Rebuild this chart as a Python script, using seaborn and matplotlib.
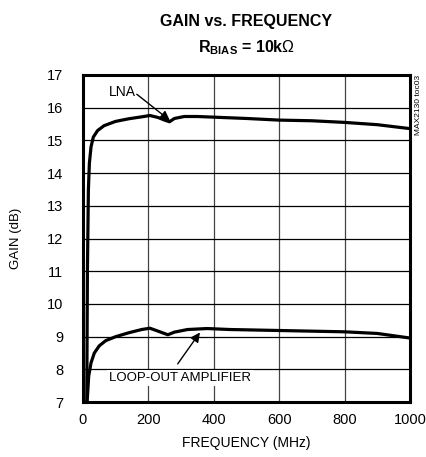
import numpy as np
import pandas as pd
import matplotlib
matplotlib.use("Agg")
import matplotlib.pyplot as plt
import seaborn as sns

# values
lna_freq = [12, 14, 17, 20, 25, 32, 45, 65, 100, 140, 180, 205, 230, 250, 265, 280, 310, 350, 400, 500, 600, 700, 800, 900, 950, 1000]
lna_gain = [7.0, 11.0, 13.5, 14.3, 14.8, 15.1, 15.3, 15.45, 15.58, 15.66, 15.72, 15.76, 15.7, 15.62, 15.57, 15.67, 15.73, 15.73, 15.71, 15.67, 15.62, 15.6, 15.55, 15.48, 15.42, 15.36]
loop_freq = [13, 18, 25, 35, 50, 70, 100, 140, 180, 205, 230, 260, 280, 320, 380, 450, 600, 800, 900, 1000]
loop_gain = [7.0, 7.8, 8.2, 8.5, 8.72, 8.88, 9.0, 9.12, 9.22, 9.26, 9.17, 9.06, 9.14, 9.22, 9.25, 9.22, 9.19, 9.15, 9.1, 8.96]
x_ticks = [0, 200, 400, 600, 800, 1000]
y_ticks = list(range(7, 18))

sns.set_style("white")
plt.rcParams['font.family'] = ['Liberation Sans', 'DejaVu Sans']
plt.rcParams['text.color'] = 'black'
plt.rcParams['axes.labelcolor'] = 'black'
plt.rcParams['xtick.color'] = 'black'
plt.rcParams['ytick.color'] = 'black'
plt.rcParams['mathtext.fontset'] = 'custom'
plt.rcParams['mathtext.rm'] = 'Liberation Sans'
plt.rcParams['mathtext.bf'] = 'Liberation Sans:bold'

df_lna = pd.DataFrame({"freq": lna_freq, "gain": lna_gain})
df_loop = pd.DataFrame({"freq": loop_freq, "gain": loop_gain})

fig = plt.figure(figsize=(4.27, 4.57), dpi=100)
ax = fig.add_axes([0.194, 0.120, 0.766, 0.716])

sns.lineplot(data=df_lna, x="freq", y="gain", color="black", linewidth=2.3, sort=False, ax=ax)
sns.lineplot(data=df_loop, x="freq", y="gain", color="black", linewidth=2.3, sort=False, ax=ax)

ax.set_xlim(0, 1000)
ax.set_ylim(7, 17)
ax.set_xticks(x_ticks)
ax.set_yticks(y_ticks)
ax.tick_params(length=0, labelsize=10.5)
ax.tick_params(axis="y", pad=14)
ax.tick_params(axis="x", pad=8)
ax.grid(True, color="black", linewidth=0.9)
ax.xaxis.grid(True, color="#444444", linewidth=0.9)
for s in ax.spines.values():
    s.set_linewidth(2.2)
    s.set_color("black")
ax.set_xlabel("FREQUENCY (MHz)", fontsize=10, labelpad=6)
ax.set_ylabel("GAIN (dB)", fontsize=9.5, labelpad=18)

# labels and arrows
arrow = dict(arrowstyle="-|>", color="black", lw=1, mutation_scale=14, shrinkA=0, shrinkB=0)
ax.text(122, 16.47, "LNA", fontsize=10, ha="center", va="center")
ax.annotate("", xy=(266, 15.61), xytext=(165, 16.41), arrowprops=arrow)
ax.text(297, 7.74, "LOOP-OUT AMPLIFIER", fontsize=9.5, ha="center", va="center",
        bbox=dict(boxstyle="square,pad=0.15", fc="white", ec="none"))
ax.annotate("", xy=(358, 9.13), xytext=(290, 8.17), arrowprops=arrow)

fig.text(0.576, 0.952, "GAIN vs. FREQUENCY", ha="center", va="center",
         fontsize=11.5, fontweight="bold")
fig.text(0.578, 0.895, r"R$\mathbf{_{BIAS}}$ = 10k$\Omega$", ha="center", va="center",
         fontsize=11.5, fontweight="bold")
fig.text(0.979, 0.836, "MAX2130 toc03", rotation=90, ha="center", va="top", fontsize=6)

fig.savefig("out.png", dpi=100)
